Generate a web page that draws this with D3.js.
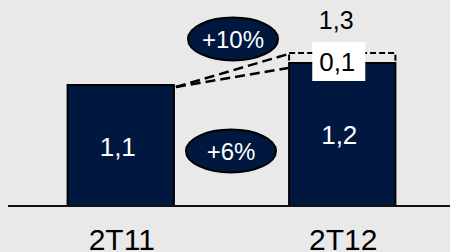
<!DOCTYPE html>
<html>
<head>
<meta charset="utf-8">
<script src="https://cdn.jsdelivr.net/npm/d3@7"></script>
<style>
  html, body { margin: 0; padding: 0; background: #e9e9e9; }
  svg { display: block; font-family: "Liberation Sans", Arial, sans-serif; }
</style>
</head>
<body>
<div id="chart"></div>
<script>
// values
var quarters = ["2T11", "2T12"]
var baseValues = [1.1, 1.3]
var baseLabels = ["1,1", "1,2"]
var extraValue = 0.09
var extraLabel = "0,1"
var totalLabel = "1,3"
var growthLabels = ["+6%", "+10%"]

var width = 450, height = 252
var navy = "#00183f"

var svg = d3.select("#chart").append("svg")
  .attr("width", width)
  .attr("height", height)

var x = d3.scaleBand()
  .domain(quarters)
  .range([10, 453])
  .paddingInner(0.52)
  .paddingOuter(0.26)

var y = d3.scaleLinear()
  .domain([0, 1])
  .range([206, 96])

// bars
svg.selectAll(".bar")
  .data(quarters)
  .enter().append("rect")
  .attr("class", "bar")
  .attr("x", function (d) { return x(d) })
  .attr("y", function (d, i) { return y(baseValues[i]) })
  .attr("width", x.bandwidth())
  .attr("height", function (d, i) { return y(0) - y(baseValues[i]) })
  .style("fill", navy)
  .style("stroke", "#000")
  .style("stroke-width", 2)

// dashed increment box on top of second bar
var x2 = x(quarters[1])
var top2 = y(baseValues[1] + extraValue)
svg.append("rect")
  .attr("x", x2)
  .attr("y", top2)
  .attr("width", x.bandwidth())
  .attr("height", y(baseValues[1]) - top2)
  .style("fill", "none")
  .style("stroke", "#000")
  .style("stroke-width", 2)
  .style("stroke-dasharray", "6,3")

// dashed connectors
var x1r = x(quarters[0]) + x.bandwidth() + 2
var y1 = y(baseValues[0]) + 2
var connectors = [top2 + 1, y(baseValues[1]) + 5]
svg.selectAll(".conn")
  .data(connectors)
  .enter().append("line")
  .attr("class", "conn")
  .attr("x1", x1r)
  .attr("y1", y1)
  .attr("x2", x2 - 1)
  .attr("y2", function (d) { return d })
  .style("stroke", "#000")
  .style("stroke-width", 2.5)
  .style("stroke-dasharray", "10,5")

// baseline
svg.append("line")
  .attr("x1", 8).attr("x2", width)
  .attr("y1", y(0)).attr("y2", y(0))
  .style("stroke", "#111")
  .style("stroke-width", 2)

// value labels inside bars
svg.selectAll(".val")
  .data(quarters)
  .enter().append("text")
  .attr("class", "val")
  .attr("x", function (d) { return x(d) + x.bandwidth() / 2 - 3 })
  .attr("y", function (d, i) { return i == 0 ? 156 : 144 })
  .attr("text-anchor", "middle")
  .style("font-size", "26px")
  .style("fill", "#fff")
  .text(function (d, i) { return baseLabels[i] })

// increment label in white box
var cx2 = x2 + x.bandwidth() / 2
svg.append("rect")
  .attr("x", cx2 - 30).attr("y", 42)
  .attr("width", 53).attr("height", 39)
  .style("fill", "#fff")
svg.append("text")
  .attr("x", cx2 - 5).attr("y", 71)
  .attr("text-anchor", "middle")
  .style("font-size", "26px")
  .style("fill", "#000")
  .text(extraLabel)

// total label
svg.append("text")
  .attr("x", cx2 - 6).attr("y", 29)
  .attr("text-anchor", "middle")
  .style("font-size", "25px")
  .style("fill", "#000")
  .text(totalLabel)

// growth bubbles
var bubbles = [{ cx: 231, cy: 151, t: growthLabels[0] }, { cx: 233, cy: 39, t: growthLabels[1] }]
var b = svg.selectAll(".bub")
  .data(bubbles)
  .enter().append("g")
  .attr("class", "bub")
  .attr("transform", function (d) { return "translate(" + d.cx + "," + d.cy + ")" })
b.append("ellipse")
  .attr("rx", 45).attr("ry", 21.5)
  .style("fill", navy)
  .style("stroke", "#000")
  .style("stroke-width", 2)
b.append("text")
  .attr("y", 9)
  .attr("text-anchor", "middle")
  .style("font-size", "24px")
  .style("fill", "#fff")
  .text(function (d) { return d.t })

// category labels
svg.selectAll(".cat")
  .data(quarters)
  .enter().append("text")
  .attr("class", "cat")
  .attr("x", function (d) { return x(d) + x.bandwidth() / 2 + 1 })
  .attr("y", 250)
  .attr("text-anchor", "middle")
  .style("font-size", "30px")
  .style("fill", "#000")
  .text(function (d) { return d })
</script>
</body>
</html>
